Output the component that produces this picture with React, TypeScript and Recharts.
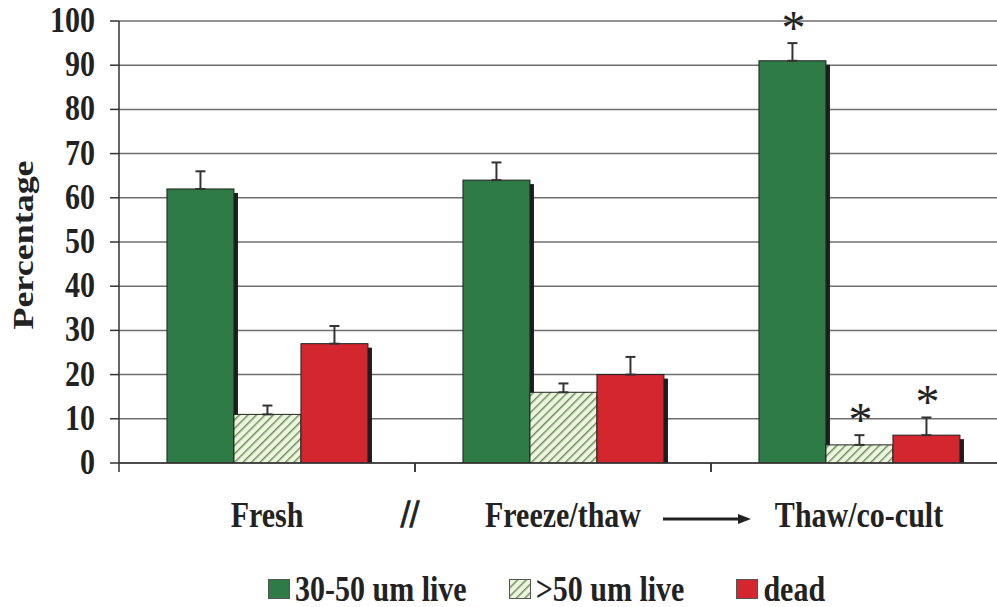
import React from "react";
import { BarChart, Bar, XAxis, YAxis, CartesianGrid, ErrorBar, LabelList } from "recharts";

// values
const categories = ["Fresh", "Freeze/thaw", "Thaw/co-cult"];
const live3050 = [62, 64, 91];
const live3050Err = [4, 4, 4];
const live50 = [11, 16, 4.1];
const live50Err = [2, 2, 2.2];
const dead = [27, 20, 6.3];
const deadErr = [4, 4, 4];
const starred = [false, false, true];
const separators = ["//", "arrow", ""];
const yTicks = [0, 10, 20, 30, 40, 50, 60, 70, 80, 90, 100];

const CHART_W = 1010;
const CHART_H = 607;
const Y_AXIS_W = 119;
const RIGHT = 3;
const BAND = (CHART_W - Y_AXIS_W - RIGHT) / categories.length;
const FONT = "'Liberation Serif', 'Times New Roman', serif";
const INK = "#222";

const data = categories.map((name, i) => ({
  name,
  a: live3050[i],
  aErr: live3050Err[i],
  b: live50[i],
  bErr: live50Err[i],
  c: dead[i],
  cErr: deadErr[i],
  star: starred[i],
}));

const series = [
  { key: "a", errKey: "aErr", name: "30-50 um live", fill: "#2e7b45" },
  { key: "b", errKey: "bErr", name: ">50 um live", fill: "url(#hatch)" },
  { key: "c", errKey: "cErr", name: "dead", fill: "#d3262f" },
];

function ShadowBar(props: any) {
  const { x, y, width, height, color } = props;
  if (!height || height <= 0) return null;
  return (
    <g>
      <rect x={x + 4} y={y + 4} width={width} height={Math.max(height - 4, 0)} fill="#1c1c1c" />
      <rect x={x} y={y} width={width} height={height} fill={color} stroke={INK} strokeWidth={1} />
    </g>
  );
}

function XTick(props: any) {
  const { x, y, payload, index } = props;
  const half = BAND / 2;
  const sep = separators[index];
  return (
    <g>
      <line x1={x - half} x2={x - half} y1={y} y2={y + 9} stroke="#333" strokeWidth={1.5} />
      <line x1={x + half} x2={x + half} y1={y} y2={y + 9} stroke="#333" strokeWidth={1.5} />
      <text
        transform={`translate(${x},${y + 64}) scale(1,1.2)`}
        textAnchor="middle"
        fontSize={30}
        fontWeight="bold"
        fontFamily={FONT}
        fill={INK}
      >
        {payload.value}
      </text>
      {sep === "//" && (
        <text
          transform={`translate(${x + half - 5},${y + 64}) scale(1,1.25)`}
          textAnchor="middle"
          fontSize={32}
          fontWeight="bold"
          fontFamily={FONT}
          fill={INK}
          stroke={INK}
          strokeWidth={1}
        >
          //
        </text>
      )}
      {sep === "arrow" && (
        <g>
          <line x1={x + half - 48} x2={x + half + 30} y1={y + 56} y2={y + 56} stroke={INK} strokeWidth={3} />
          <polygon
            points={`${x + half + 40},${y + 56} ${x + half + 27},${y + 51} ${x + half + 27},${y + 61}`}
            fill={INK}
          />
        </g>
      )}
    </g>
  );
}

function YTick(props: any) {
  const { x, y, payload } = props;
  return (
    <text
      transform={`translate(${x},${y + 11}) scale(1,1.2)`}
      textAnchor="end"
      fontSize={30}
      fontWeight="bold"
      fontFamily={FONT}
      fill={INK}
    >
      {payload.value}
    </text>
  );
}

function YLabel() {
  return (
    <text
      transform="translate(33,245) rotate(-90) scale(1.2,1)"
      textAnchor="middle"
      fontSize={30}
      fontWeight="bold"
      fontFamily={FONT}
      fill={INK}
    >
      Percentage
    </text>
  );
}

function makeStar(key: string, errKey: string) {
  return (p: any) => {
    const row = data[p.index];
    if (!row || !row.star) return null;
    const vb = p.viewBox || p;
    const { x, y, width, height } = vb;
    const val = row[key as "a"];
    const err = row[errKey as "aErr"];
    const unit = val ? height / val : 0;
    const errTop = y - err * unit;
    return (
      <text
        x={x + width / 2 + 1}
        y={errTop + 1}
        textAnchor="middle"
        fontSize={48}
        fontFamily={FONT}
        fill={INK}
      >
        *
      </text>
    );
  };
}

function LegendBox() {
  const gaps = [42, 52, 0];
  return (
    <div
      style={{
        position: "absolute",
        left: 268,
        top: 574,
        display: "flex",
        alignItems: "center",
        fontFamily: FONT,
        fontWeight: "bold",
        fontSize: 30,
        color: INK,
      }}
    >
      {series.map((s, i) => (
        <div key={s.key} style={{ display: "flex", alignItems: "center", marginRight: gaps[i] }}>
          <svg width={22} height={20} style={{ marginRight: 5 }}>
            <defs>
              <pattern id={`lhatch${i}`} patternUnits="userSpaceOnUse" width={6} height={6} patternTransform="rotate(45)">
                <rect width={6} height={6} fill="#eef3e2" />
                <line x1={0} y1={0} x2={0} y2={6} stroke="#6a9656" strokeWidth={3} />
              </pattern>
            </defs>
            <rect
              x={0.5}
              y={0.5}
              width={21}
              height={19}
              fill={s.key === "b" ? `url(#lhatch${i})` : s.fill}
              stroke="#555"
            />
          </svg>
          <span style={{ display: "inline-block", lineHeight: 1, transform: "scaleY(1.2)" }}>{s.name}</span>
        </div>
      ))}
    </div>
  );
}

export default function App() {
  return (
    <div
      style={{
        position: "absolute",
        left: 0,
        top: 0,
        width: 997,
        height: 607,
        overflow: "hidden",
        background: "#fff",
      }}
    >
      <BarChart
        width={CHART_W}
        height={CHART_H}
        data={data}
        margin={{ top: 21, right: RIGHT, left: 0, bottom: 64 }}
        barCategoryGap="16.2%"
        barGap={0}
      >
        <defs>
          <pattern id="hatch" patternUnits="userSpaceOnUse" width={6} height={6} patternTransform="rotate(45)">
            <rect width={6} height={6} fill="#eef3e2" />
            <line x1={0} y1={0} x2={0} y2={6} stroke="#6a9656" strokeWidth={3} />
          </pattern>
        </defs>
        <CartesianGrid vertical={false} stroke="#6e6e6e" strokeWidth={1.5} />
        <XAxis
          dataKey="name"
          height={80}
          tickLine={false}
          tickSize={0}
          tickMargin={0}
          axisLine={{ stroke: "#333", strokeWidth: 1.5 }}
          tick={<XTick />}
          interval={0}
        />
        <YAxis
          width={Y_AXIS_W}
          domain={[0, 100]}
          ticks={yTicks}
          allowDataOverflow
          tickSize={9}
          tickMargin={15}
          tickLine={{ stroke: "#333", strokeWidth: 1.5 }}
          axisLine={{ stroke: "#333", strokeWidth: 1.5 }}
          tick={<YTick />}
          label={<YLabel />}
        />
        {series.map((s) => (
          <Bar
            key={s.key}
            dataKey={s.key}
            name={s.name}
            fill={s.fill}
            isAnimationActive={false}
            shape={(p: any) => <ShadowBar {...p} color={s.fill} />}
          >
            <ErrorBar
              dataKey={(d: any) => [0, d[s.errKey]]}
              width={5}
              stroke="#333"
              strokeWidth={2}
              direction="y"
              isAnimationActive={false}
            />
            <LabelList dataKey="star" content={makeStar(s.key, s.errKey)} />
          </Bar>
        ))}
      </BarChart>
      <LegendBox />
    </div>
  );
}
